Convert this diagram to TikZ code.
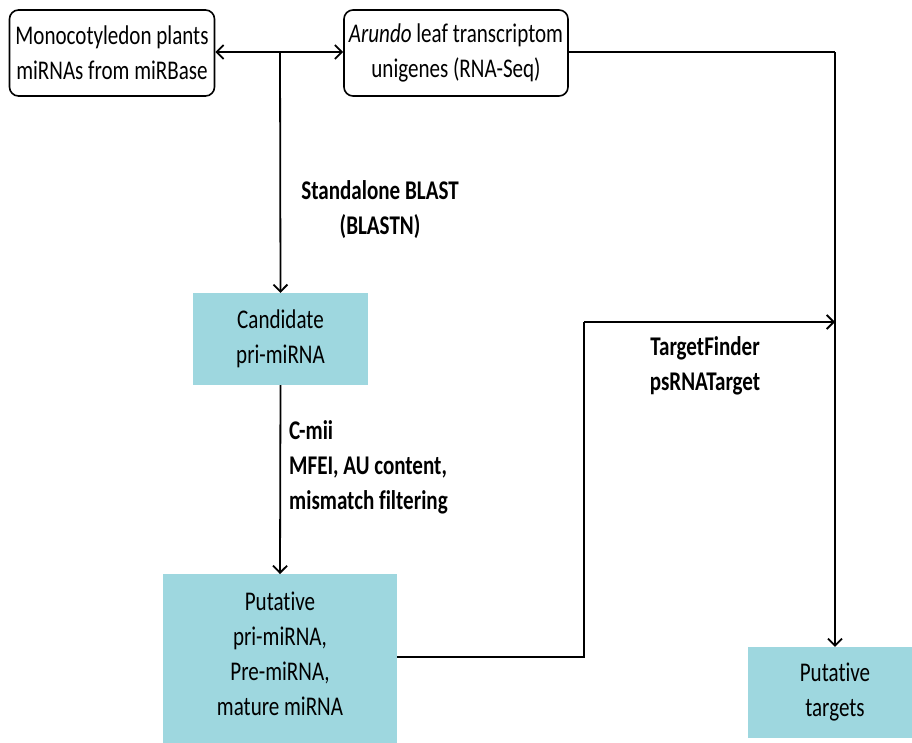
\documentclass[tikz,border=0pt]{standalone}
\usepackage{fontspec}
\setmainfont{Carlito}[FakeStretch=0.78, Ligatures={NoCommon}]
\usetikzlibrary{arrows.meta}
\definecolor{boxcyan}{HTML}{9ED7DF}
\begin{document}
\begin{tikzpicture}[x=1pt,y=-1pt,
  font=\fontsize{27}{35}\selectfont,
  rbox/.style={draw, line width=1.6pt, rounded corners=9pt, align=center, inner sep=0pt},
  cbox/.style={fill=boxcyan, align=center, inner sep=0pt},
  conn/.style={line width=1.8pt, -{Straight Barb[length=7pt,width=14pt,line width=1.8pt]}},
  plain/.style={line width=1.8pt},
  lbl/.style={font=\fontsize{27}{35}\selectfont\bfseries, inner sep=0pt}]
\clip (0,0) rectangle (912,742);
\useasboundingbox (0,0) rectangle (912,742);
\fill[white] (0,0) rectangle (912,742);
% nodes
\node[rbox, minimum width=205pt, minimum height=86pt] (mono) at (112,53) {Monocotyledon plants\\miRNAs from miRBase};
\node[rbox, minimum width=224pt, minimum height=86pt] (arun) at (456,53) {\textit{Arundo} leaf transcriptom\\unigenes (RNA-Seq)};
\node[cbox, minimum width=175pt, minimum height=92pt] (cand) at (280.5,339) {Candidate\\pri-miRNA};
\node[cbox, minimum width=234pt, minimum height=172pt, anchor=north] (put) at (280,574) {};
\node[align=center, inner sep=0pt] (putt) at (280,654) {Putative\\pri-miRNA,\\Pre-miRNA,\\mature miRNA};
\node[cbox, minimum width=174pt, minimum height=91pt] (targ) at (835,692.5) {Putative\\targets};
% junction coordinates
\coordinate (j) at (280,52);
\coordinate (c1) at (835,52);
\coordinate (c2) at (584,657);
\coordinate (c3) at (584,322);
\coordinate (c4) at (835,322);
% connectors
\draw[conn] (j) -- (mono.east |- j);
\draw[conn] (j) -- (arun.west |- j);
\draw[conn] (j) -- (cand.north);
\draw[conn] (cand.south) -- (put.north);
\draw[plain] (arun.east |- c1) -- (c1);
\draw[conn] (c1) -- (targ.north);
\draw[plain] (put.east |- c2) -- (c2) -- (c3);
\draw[conn] (c3) -- (c4);
% labels
\node[lbl, align=center] (blast) at (380,210) {Standalone BLAST\\(BLASTN)};
\node[lbl, align=left, anchor=west] (cmii) at (289,467) {C-mii\\MFEI, AU content,\\mismatch filtering};
\node[lbl, align=center] (tf) at (705,366) {TargetFinder\\psRNATarget};
\end{tikzpicture}
\end{document}
